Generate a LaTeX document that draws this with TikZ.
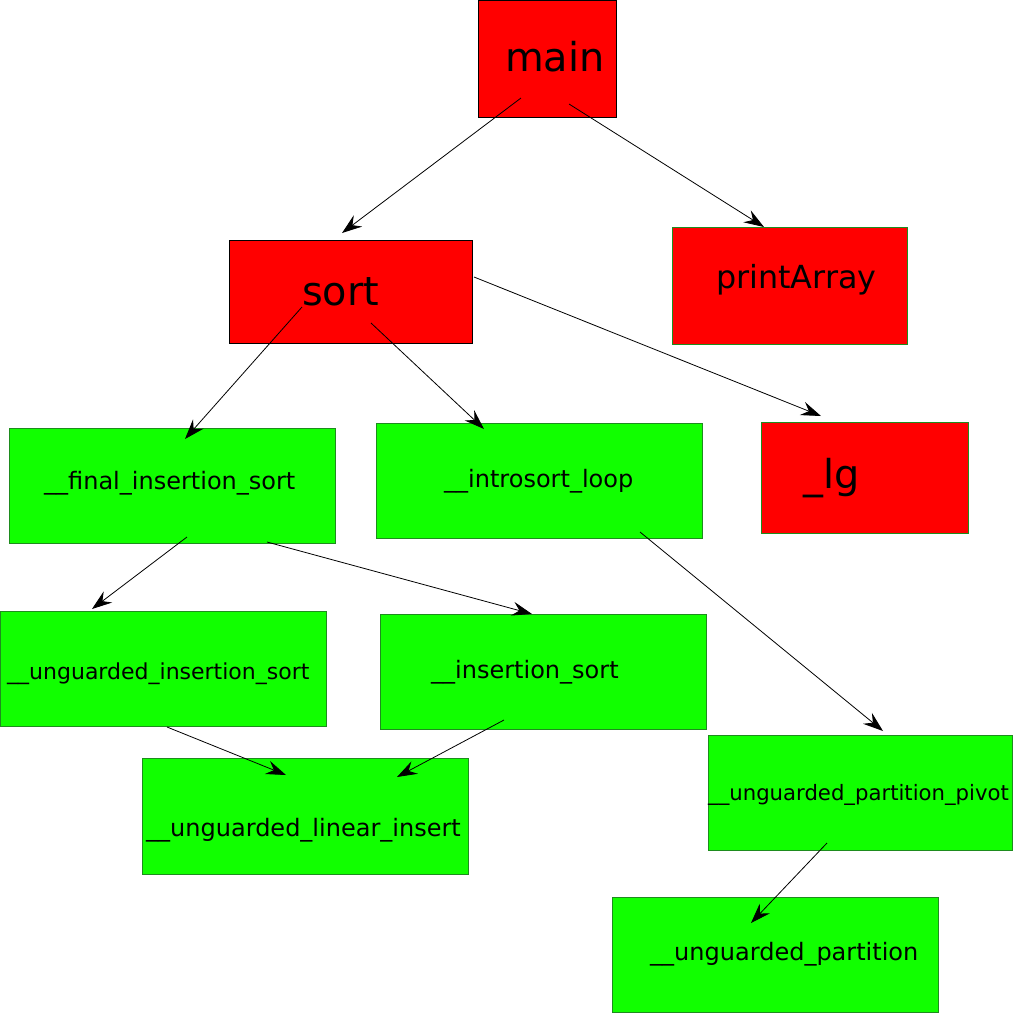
\documentclass[tikz,border=0pt]{standalone}
\usepackage{fontspec}
\setmainfont{DejaVu Sans}
\usetikzlibrary{arrows.meta}
\definecolor{boxred}{HTML}{FF0000}
\definecolor{boxgreen}{HTML}{11FF00}
\definecolor{edgegreen}{HTML}{1E8C1E}
\tikzset{
  box/.style={anchor=north west, inner sep=0pt, line width=0.9pt},
  redbk/.style={box, fill=boxred, draw=black},
  redgr/.style={box, fill=boxred, draw=edgegreen},
  grbox/.style={box, fill=boxgreen, draw=edgegreen},
  lbl/.style={anchor=base west, inner sep=0pt, text=black},
  arr/.style={line width=0.8pt, -{Stealth[length=20pt,width=14pt,inset=7pt]}},
}
\newcommand{\fsz}[1]{\fontsize{#1}{#1}\selectfont}
\begin{document}
\begin{tikzpicture}[x=1pt,y=-1pt]
\useasboundingbox (0,0) rectangle (1013,1013);
% boxes
\node[redbk, minimum width=138, minimum height=117] (main) at (478,0) {};
\node[redgr, minimum width=235, minimum height=117] (print) at (672,227) {};
\node[redbk, minimum width=243, minimum height=103] (sort) at (229,240) {};
\node[redgr, minimum width=207, minimum height=111] (lg) at (761,422) {};
\node[grbox, minimum width=326, minimum height=115] (final) at (9,428) {};
\node[grbox, minimum width=326, minimum height=115] (intro) at (376,423) {};
\node[grbox, minimum width=326, minimum height=115] (ugins) at (0,611) {};
\node[grbox, minimum width=326, minimum height=115] (ins) at (380,614) {};
\node[grbox, minimum width=326, minimum height=116] (lin) at (142,758) {};
\node[grbox, minimum width=304, minimum height=115] (pivot) at (708,735) {};
\node[grbox, minimum width=326, minimum height=115] (part) at (612,897) {};
% labels
\node[lbl, font=\fsz{39.8}] (mainT) at (505,71) {main};
\node[lbl, font=\fsz{31.8}] (printT) at (716,288) {printArray};
\node[lbl, font=\fsz{39.8}] (sortT) at (302,305) {sort};
\node[lbl, font=\fsz{39.8}] (lgT) at (803,488) {\_lg};
\node[lbl, font=\fsz{24}] (finalT) at (44,489) {\_\_final\_insertion\_sort};
\node[lbl, font=\fsz{24}] (introT) at (444,487) {\_\_introsort\_loop};
\node[lbl, font=\fsz{22}] (uginsT) at (7,679) {\_\_unguarded\_insertion\_sort};
\node[lbl, font=\fsz{24}] (insT) at (431,678) {\_\_insertion\_sort};
\node[lbl, font=\fsz{24}] (linT) at (146,836) {\_\_unguarded\_linear\_insert};
\node[lbl, font=\fsz{21.2}] (pivotT) at (708,800) {\_\_unguarded\_partition\_pivot};
\node[lbl, font=\fsz{24}] (partT) at (650,960) {\_\_unguarded\_partition};
% connector end points
\coordinate (m1) at (521,98);   \coordinate (s0) at (342,233);
\coordinate (m2) at (569,104);  \coordinate (p0) at (764,227);
\coordinate (s1) at (302,307);  \coordinate (f0) at (185,439);
\coordinate (s2) at (371,323);  \coordinate (i0) at (484,429);
\coordinate (s3) at (474,277);  \coordinate (l0) at (821,416);
\coordinate (f1) at (187,537);  \coordinate (u0) at (92,609);
\coordinate (f2) at (267,542);  \coordinate (n0) at (532,614);
\coordinate (i1) at (640,532);  \coordinate (v0) at (883,731);
\coordinate (u1) at (167,727);  \coordinate (k0) at (286,775);
\coordinate (n1) at (504,720);  \coordinate (k1) at (397,777);
\coordinate (v1) at (827,843);  \coordinate (t0) at (751,923);
% connectors
\draw[arr] (m1) -- (s0);
\draw[arr] (m2) -- (p0);
\draw[arr] (s1) -- (f0);
\draw[arr] (s2) -- (i0);
\draw[arr] (s3) -- (l0);
\draw[arr] (f1) -- (u0);
\draw[arr] (f2) -- (n0);
\draw[arr] (i1) -- (v0);
\draw[arr] (u1) -- (k0);
\draw[arr] (n1) -- (k1);
\draw[arr] (v1) -- (t0);
\end{tikzpicture}
\end{document}
